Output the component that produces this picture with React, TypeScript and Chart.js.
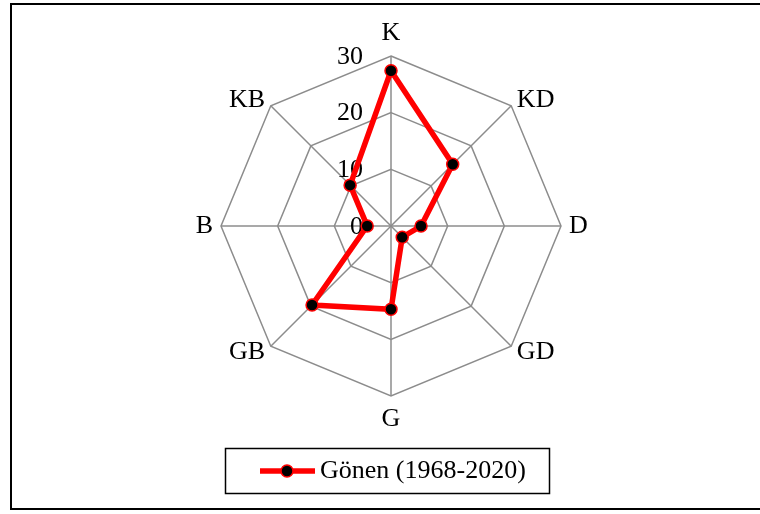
import React, { useEffect, useRef } from "react";
import { Chart, registerables } from "chart.js";

Chart.register(...registerables);

const categories = ["K", "KD", "D", "GD", "G", "GB", "B", "KB"];
const seriesName = "Gönen (1968-2020)";
const values = [27.4, 15.4, 5.3, 2.8, 14.7, 19.7, 4.2, 10.2];
const tickValues = [0, 10, 20, 30];
const tickLabels = ["0", "10", "20", "30"];

const FONT = '"Liberation Serif", "Times New Roman", serif';
const RED = "#ff0000";
const GRID = "#8c8c8c";

const customDraw = {
  id: "customDraw",
  beforeDatasetsDraw(chart: any) {
    const s = chart.scales.r;
    const ctx = chart.ctx;
    ctx.save();
    ctx.font = `26px ${FONT}`;
    ctx.fillStyle = "#000";
    ctx.textAlign = "right";
    ctx.textBaseline = "middle";
    tickValues.forEach((v, i) => {
      const d = s.getDistanceFromCenterForValue(v);
      ctx.fillText(tickLabels[i], s.xCenter - 28, s.yCenter - d + 1);
    });
    categories.forEach((c, i) => {
      const angle = s.getIndexAngle(i);
      const sin = Math.sin(angle);
      const isVert = Math.abs(sin) < 0.1;
      const dist = isVert ? s.drawingArea + 23 : s.drawingArea + 8;
      const p = s.getPointPosition(i, dist);
      ctx.textAlign = isVert ? "center" : sin > 0 ? "left" : "right";
      ctx.fillText(c, p.x, p.y);
    });
    ctx.restore();
  },
  afterDraw(chart: any) {
    const ctx = chart.ctx;
    ctx.save();
    // outer frame
    ctx.strokeStyle = "#000";
    ctx.lineWidth = 2;
    ctx.strokeRect(11, 4, 800, 505);
    // legend
    ctx.lineWidth = 1.5;
    ctx.strokeRect(225.5, 448.5, 324, 45);
    ctx.strokeStyle = RED;
    ctx.lineWidth = 5.5;
    ctx.beginPath();
    ctx.moveTo(260, 471);
    ctx.lineTo(315, 471);
    ctx.stroke();
    ctx.beginPath();
    ctx.arc(287, 471, 6, 0, Math.PI * 2);
    ctx.fillStyle = "#000";
    ctx.fill();
    ctx.lineWidth = 1.5;
    ctx.stroke();
    ctx.font = `26px ${FONT}`;
    ctx.fillStyle = "#000";
    ctx.textAlign = "left";
    ctx.textBaseline = "middle";
    ctx.fillText(seriesName, 320, 471);
    ctx.restore();
  },
};

export default function App() {
  const ref = useRef<HTMLCanvasElement | null>(null);
  useEffect(() => {
    if (!ref.current) return;
    const chart = new Chart(ref.current, {
      type: "radar",
      data: {
        labels: categories,
        datasets: [
          {
            label: seriesName,
            data: values,
            borderColor: RED,
            borderWidth: 5.5,
            backgroundColor: "rgba(0,0,0,0)",
            fill: false,
            pointRadius: 6,
            pointBackgroundColor: "#000",
            pointBorderColor: RED,
            pointBorderWidth: 1.5,
            tension: 0,
          },
        ],
      },
      options: {
        responsive: false,
        animation: false,
        devicePixelRatio: 1,
        plugins: { legend: { display: false }, tooltip: { enabled: false } },
        layout: { padding: 0 },
        scales: {
          r: {
            min: 0,
            max: 30,
            ticks: { display: false, stepSize: 10 },
            pointLabels: { display: false },
            grid: { color: GRID, lineWidth: 1.5, circular: false },
            angleLines: { color: GRID, lineWidth: 1.5 },
            afterFit: (scale: any) => {
              scale.xCenter = 391;
              scale.yCenter = 226;
              scale.drawingArea = 170;
            },
          },
        },
      },
      plugins: [customDraw],
    });
    return () => chart.destroy();
  }, []);
  return (
    <div style={{ position: "fixed", left: 0, top: 0, width: 760, height: 514, background: "#fff" }}>
      <canvas ref={ref} width={760} height={514} style={{ display: "block" }} />
    </div>
  );
}
